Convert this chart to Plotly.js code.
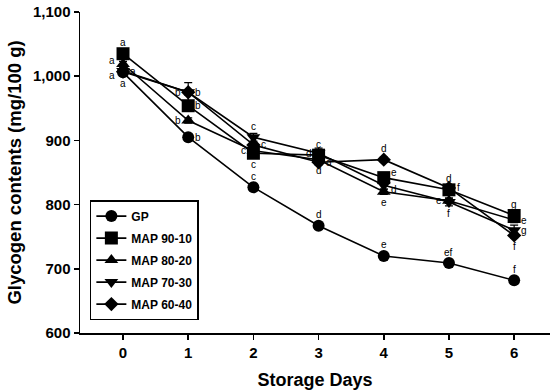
<!DOCTYPE html>
<html><head><meta charset="utf-8">
<script src="https://cdn.plot.ly/plotly-3.0.1.min.js"></script>
<style>body{margin:0;background:#fff}#c{width:555px;height:390px}</style>
</head><body><div id="c"></div>
<script>
const days = [0,1,2,3,4,5,6];
const seriesNames = ["GP","MAP 90-10","MAP 80-20","MAP 70-30","MAP 60-40"];
const gp    = [1006, 905, 827, 767, 720, 709, 682];
const m9010 = [1035, 954, 880, 877, 842, 823, 783];
const m8020 = [1019, 931, 884, 870, 820, 806, 776];
const m7030 = [1008, 975, 905, 880, 830, 804, 760];
const m6040 = [1007, 975, 893, 866, 870, 826, 752];
const gpErr    = [3,3,3,3,3,3,3];
const m9010Err = [4,4,4,4,4,4,4];
const m8020Err = [4,4,4,4,4,4,4];
const m7030Err = [6,15,6,8,6,6,8];
const m6040Err = [4,4,4,4,4,4,4];
// significance letters per series and their side relative to the marker
const gpLetters    = ["a","b","c","d","e","ef","f"];
const m9010Letters = ["a","b","c","c","e","d","g"];
const m8020Letters = ["a","b","c","d","e","e","e"];
const m7030Letters = ["a","b","c","d","d","f","g"];
const m6040Letters = ["a","b","c","d","d","f","f"];
const gpSide    = ["below","right","above","above","above","above","above"];
const m9010Side = ["above","right","below","above","rightup","above","above"];
const m8020Side = ["leftup","left","left","below","below","left","right"];
const m7030Side = ["leftdown","left","above","left","rightdown","below","right"];
const m6040Side = ["right","right","right","right","above","right","below"];

const values = [gp, m9010, m8020, m7030, m6040];
const errs = [gpErr, m9010Err, m8020Err, m7030Err, m6040Err];
const letters = [gpLetters, m9010Letters, m8020Letters, m7030Letters, m6040Letters];
const sides = [gpSide, m9010Side, m8020Side, m7030Side, m6040Side];
const symbols = ["circle","square","triangle-up","triangle-down","diamond"];
const sizes = [12, 13, 12, 12, 11];

const traces = values.map((v,i)=>({
  x: days, y: v, name: seriesNames[i], type: "scatter", mode: "lines+markers",
  legendgroup: "g"+i,
  line: {color: "#000", width: 1.6},
  marker: {symbol: symbols[i], size: sizes[i], color: "#000"},
  error_y: {type: "data", array: errs[i], visible: true, color: "#000", thickness: 1.2, width: 4}
}));

const shifts = {above:[0,11], below:[0,-11], left:[-10,0], right:[10,0], rightup:[10,5], rightdown:[10,-4],
  leftup:[-11,4], leftdown:[-11,-4]};
const annotations = [];
values.forEach((v,i)=>{
  v.forEach((val,j)=>{
    const s = shifts[sides[i][j]];
    annotations.push({x: days[j], y: val, xref:"x", yref:"y", text: letters[i][j], showarrow:false,
      xshift: s[0], yshift: s[1], font:{family:"Liberation Sans, Arial", size:10, color:"#000"}});
  });
});

const layout = {
  width: 555, height: 390,
  margin: {l: 80, r: 5, t: 12, b: 57},
  paper_bgcolor: "#fff", plot_bgcolor: "#fff",
  font: {family: "Liberation Sans, Arial", color: "#000"},
  showlegend: true,
  legend: {x: 0.021, y: 0.414, xanchor: "left", yanchor: "top", bordercolor: "#000", borderwidth: 1.5,
    bgcolor: "#fff", font: {size: 12, weight: "bold"}, traceorder: "grouped", tracegroupgap: 3},
  xaxis: {range: [-0.66, 6.55], tickvals: days, ticktext: days.map(String), showgrid: false, zeroline: false,
    showline: true, linecolor: "#000", linewidth: 1.5, ticks: "outside", ticklen: 5, tickwidth: 1.5, tickcolor: "#000",
    tickfont: {size: 15, weight: "bold"},
    title: {text: "Storage Days", font: {size: 18, weight: "bold"}, standoff: 14}},
  yaxis: {range: [600, 1100], tickvals: [600,700,800,900,1000,1100], ticktext: ["600","700","800","900","1,000","1,100"],
    showgrid: false, zeroline: false,
    showline: true, linecolor: "#000", linewidth: 1.5, ticks: "outside", ticklen: 5, tickwidth: 1.5, tickcolor: "#000",
    tickfont: {size: 15, weight: "bold"},
    title: {text: "Glycogen contents (mg/100 g)", font: {size: 18.5, weight: "bold"}, standoff: 6}},
  annotations: annotations
};
Plotly.newPlot("c", traces, layout, {displayModeBar: false, staticPlot: true});
</script></body></html>
